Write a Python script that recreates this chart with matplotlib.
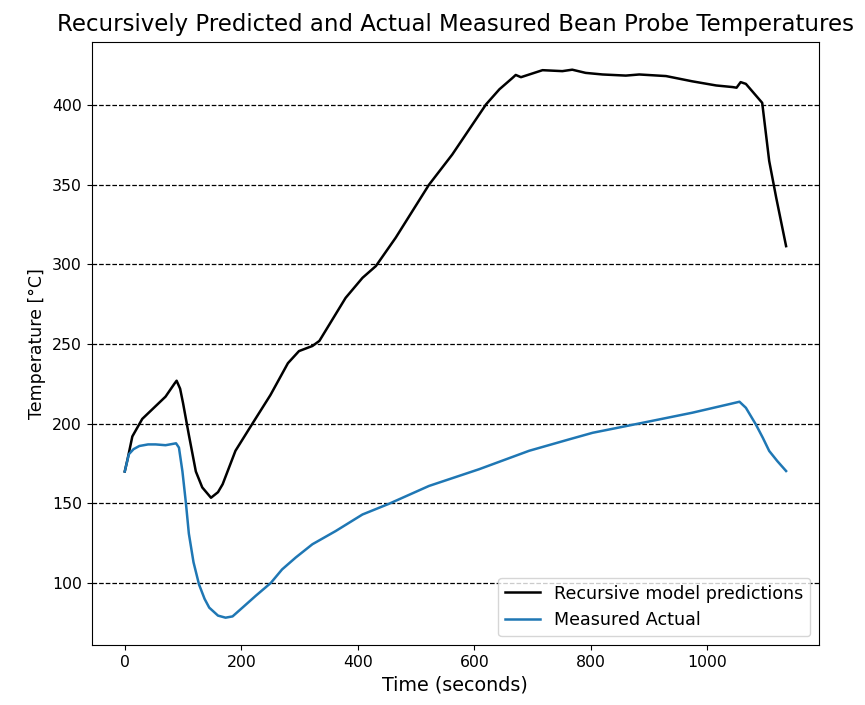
import matplotlib
matplotlib.use("Agg")
import matplotlib.pyplot as plt
import numpy as np

# Recursive model predictions (black)
pred_t = [0, 5, 13, 30, 50, 70, 85, 89, 95, 100, 110, 122, 133, 148, 160, 168, 190,
          219, 250, 265, 280, 299, 322, 334, 379, 408, 431, 465, 522, 562, 620, 643,
          665, 671, 680, 717, 751, 768, 791, 820, 860, 883, 929, 974, 1015, 1043,
          1050, 1057, 1066, 1094, 1106, 1118, 1135]
pred_T = [170, 178, 192, 203, 210, 217, 225, 227, 222, 213, 193, 170, 160, 153.5, 157,
          162, 183, 200, 218, 228, 238, 245.6, 248.8, 252, 279, 291.6, 299, 316.8, 350,
          369, 400.5, 410, 417, 419, 417.6, 422, 421.4, 422.3, 420.3, 419.3, 418.6,
          419.3, 418.3, 415, 412.4, 411.4, 411, 414.5, 413.4, 401.5, 365, 342, 311.5]

# Measured actual (blue)
meas_t = [0, 7, 15, 25, 40, 53, 70, 88, 93, 99, 105, 110, 118, 127.5, 137, 145, 160,
          173, 185, 202, 225, 250.6, 270, 293.5, 322, 362, 408, 454, 522, 608, 694,
          763, 803, 889, 974, 1040, 1055, 1066, 1083, 1095, 1106, 1120, 1135]
meas_T = [170, 180.8, 184, 186, 187, 187, 186.5, 187.7, 185, 170, 150, 131, 113, 99,
          90, 84.5, 79.5, 78.2, 79, 84.5, 92, 100, 108.5, 116, 124.3, 132.6, 143,
          149.8, 160.9, 171.4, 183, 190.2, 194.3, 200.6, 206.9, 212.5, 213.8, 210,
          199.6, 191.2, 182.9, 176.5, 170.3]

fig = plt.figure(figsize=(8.65, 7.05), dpi=100)
ax = fig.add_axes([0.106, 0.085, 0.841, 0.855])

ax.plot(pred_t, pred_T, color="black", lw=1.8, label="Recursive model predictions")
ax.plot(meas_t, meas_T, color="#1f77b4", lw=1.8, label="Measured Actual")

ax.yaxis.grid(True, linestyle="--", color="black", linewidth=0.9)
ax.set_axisbelow(True)

ax.set_title("Recursively Predicted and Actual Measured Bean Probe Temperatures",
             fontsize=16.5, pad=8)
ax.set_xlabel("Time (seconds)", fontsize=13.8)
ax.set_ylabel("Temperature [°C]", fontsize=12.5)
ax.tick_params(labelsize=11.3)
ax.legend(loc="lower right", fontsize=12.6)

fig.savefig("out.png", dpi=100)
